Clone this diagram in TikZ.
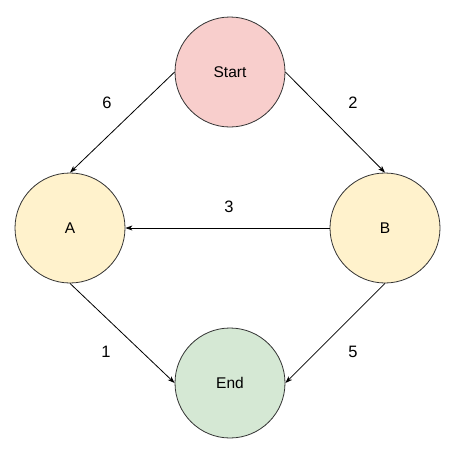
\documentclass[tikz,border=0pt]{standalone}
\usepackage{fontspec}
\setmainfont{Liberation Sans}
\usetikzlibrary{arrows.meta}
\definecolor{redfill}{HTML}{F8CECC}
\definecolor{redline}{HTML}{B85450}
\definecolor{yelfill}{HTML}{FFF2CC}
\definecolor{yelline}{HTML}{D6B656}
\definecolor{grnfill}{HTML}{D5E8D4}
\definecolor{grnline}{HTML}{82B366}
\begin{document}
\begin{tikzpicture}[x=1pt,y=-1pt,
  state/.style={circle,draw=black!80,line width=0.8pt,minimum size=110pt,inner sep=0pt,font=\fontsize{15.5}{18}\selectfont},
  conn/.style={draw=black,line width=0.8pt,-{Stealth[length=7pt,width=5pt,inset=2pt]}},
  lbl/.style={font=\fontsize{16.5}{19}\selectfont,inner sep=0pt}]
\useasboundingbox (0,0) rectangle (460,455);
\fill[white] (0,0) rectangle (460,455);
\node[state,fill=redfill] (start) at (230,72) {Start};
\node[state,fill=yelfill] (a) at (70,228) {A};
\node[state,fill=yelfill] (b) at (385,228) {B};
\node[state,fill=grnfill] (end) at (230,383) {End};
\draw[conn] (start.west) -- (a.north);
\draw[conn] (start.east) -- (b.north);
\draw[conn] (b.west) -- (a.east);
\draw[conn] (a.south) -- (end.west);
\draw[conn] (b.south) -- (end.east);
\node[lbl] (l6) at (107,103) {6};
\node[lbl] (l2) at (353,103) {2};
\node[lbl] (l3) at (229,207) {3};
\node[lbl] (l1) at (106,352) {1};
\node[lbl] (l5) at (353,352) {5};
\end{tikzpicture}
\end{document}
